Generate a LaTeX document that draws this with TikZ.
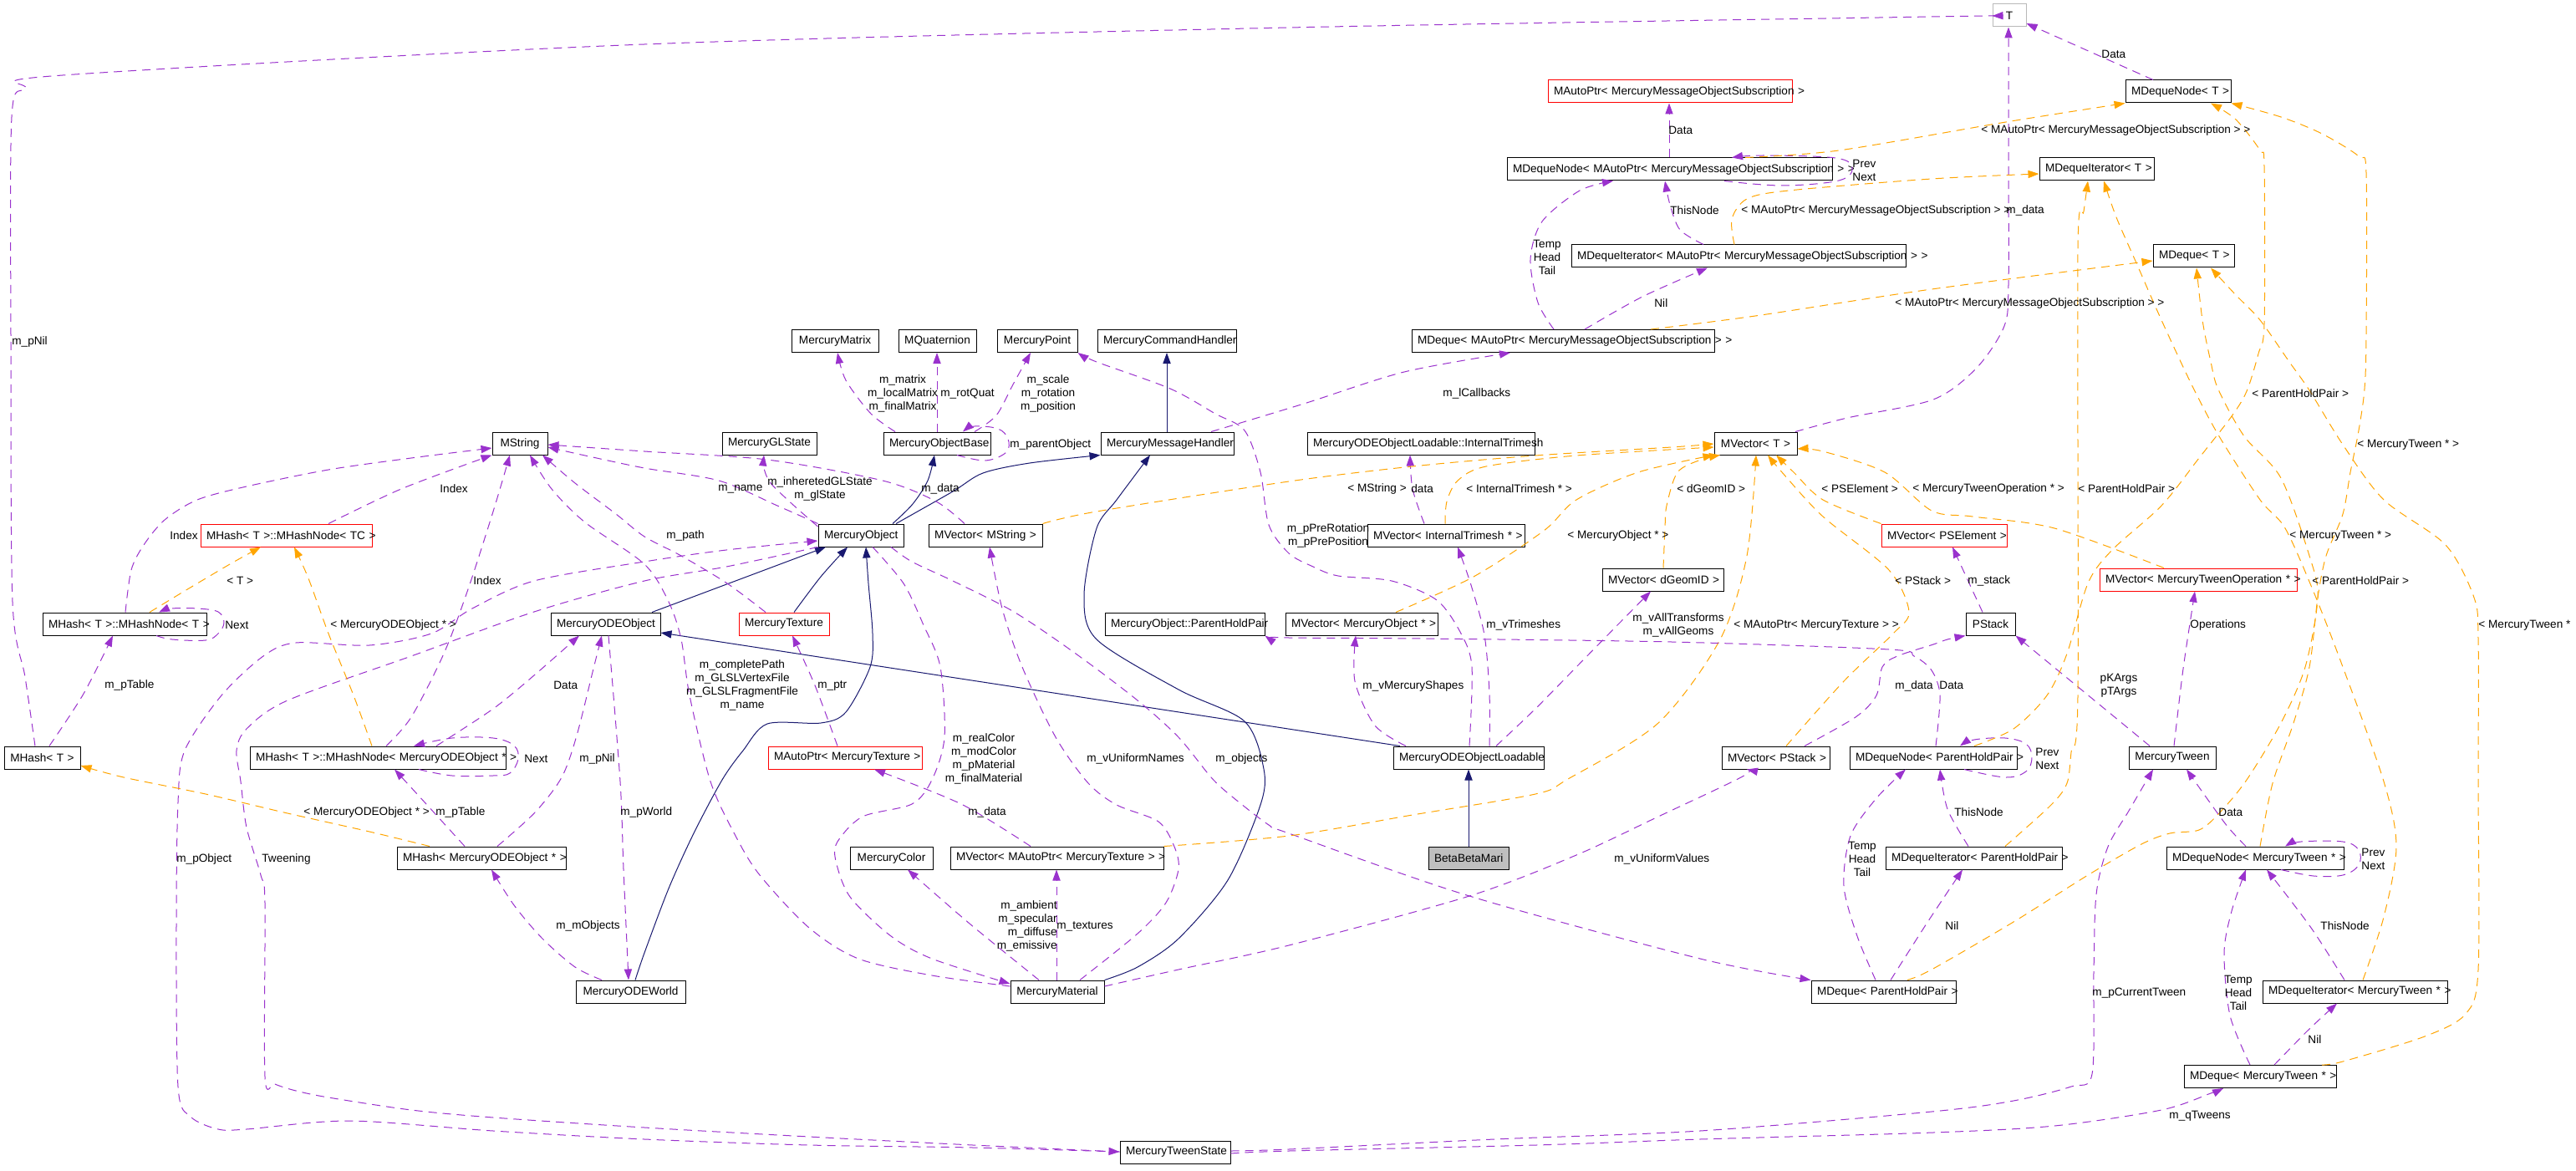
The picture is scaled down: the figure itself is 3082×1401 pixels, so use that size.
\documentclass[tikz,border=0pt]{standalone}
\usepackage{fontspec}
\setmainfont{Liberation Sans}
\usetikzlibrary{arrows.meta}
\definecolor{upurple}{HTML}{9A32CD}
\definecolor{inavy}{HTML}{191970}
\definecolor{torange}{HTML}{FFA500}
\newcommand\dgfont{\fontsize{6.8pt}{8pt}\selectfont}
\newcommand\clsnode[7][]{%
  \pgfmathsetmacro\cnx{(#3+#5)/2}%
  \pgfmathsetmacro\cny{(#4+#6)/2}%
  \pgfmathsetmacro\cnw{(#5-#3)/2-7}%
  \node[cbox,#1,text width=\cnw pt] (#2) at (\cnx,\cny) {\mbox{#7}};}
\tikzset{
  cbox/.style={draw=black, line width=0.5pt, inner xsep=3.5pt, inner ysep=0pt, minimum height=13.5pt, align=center, font=\dgfont},
  rbox/.style={draw=red},
  gbox/.style={draw=gray!55},
  bbox/.style={fill=gray!50},
  lbl/.style={inner sep=0pt, anchor=west, font=\dgfont},
  clbl/.style={inner sep=0pt, anchor=center, align=center, font=\dgfont},
  uedge/.style={draw=upurple, line width=0.5pt, dash pattern=on 5pt off 3.5pt, -{Triangle[length=6.5pt,width=4.6pt]}},
  iedge/.style={draw=inavy, line width=0.5pt, -{Triangle[length=6.5pt,width=4.6pt]}},
  tedge/.style={draw=torange, line width=0.5pt, dash pattern=on 5pt off 3.5pt, -{Triangle[length=6.5pt,width=4.6pt]}}
}
\begin{document}
\begin{tikzpicture}[x=0.5pt,y=-0.5pt]
\fill[white] (0,0) rectangle (3082,1401);
\useasboundingbox (0,0) rectangle (3082,1401);
% ---------------- nodes ----------------
\clsnode[gbox]{nT}{2384}{5}{2424}{32}{T}
\clsnode{dnT}{2543}{96}{2669}{123}{MDequeNode< T >}
\clsnode{diT}{2440}{189}{2577}{216}{MDequeIterator< T >}
\clsnode{dqT}{2576}{293}{2673}{320}{MDeque< T >}
\clsnode[rbox]{apS}{1852}{96}{2144}{123}{MAutoPtr< MercuryMessageObjectSubscription >}
\clsnode{dnS}{1803}{189}{2192}{216}{MDequeNode< MAutoPtr< MercuryMessageObjectSubscription > >}
\clsnode{diS}{1880}{293}{2280}{320}{MDequeIterator< MAutoPtr< MercuryMessageObjectSubscription > >}
\clsnode{dqS}{1689}{395}{2051}{421}{MDeque< MAutoPtr< MercuryMessageObjectSubscription > >}
\clsnode{mat}{947}{395}{1051}{421}{MercuryMatrix}
\clsnode{quat}{1075}{395}{1168}{421}{MQuaternion}
\clsnode{pnt}{1193}{395}{1289}{421}{MercuryPoint}
\clsnode{cmd}{1313}{395}{1479}{421}{MercuryCommandHandler}
\clsnode{str}{589}{517}{655}{544}{MString}
\clsnode[rbox]{hnTC}{240}{627}{445}{654}{MHash< T >::MHashNode< TC >}
\clsnode{hnT}{51}{733}{247}{760}{MHash< T >::MHashNode< T >}
\clsnode{hT}{5}{893}{96}{920}{MHash< T >}
\clsnode{hnO}{299}{893}{605}{920}{MHash< T >::MHashNode< MercuryODEObject * >}
\clsnode{odeo}{659}{733}{790}{760}{MercuryODEObject}
\clsnode{gls}{864}{517}{977}{544}{MercuryGLState}
\clsnode{ob}{1057}{517}{1185}{544}{MercuryObjectBase}
\clsnode{mh}{1317}{517}{1476}{544}{MercuryMessageHandler}
\clsnode{mo}{979}{627}{1081}{654}{MercuryObject}
\clsnode{vstr}{1111}{627}{1247}{654}{MVector< MString >}
\clsnode[rbox]{tex}{884}{733}{992}{760}{MercuryTexture}
\clsnode{php}{1322}{733}{1513}{760}{MercuryObject::ParentHoldPair}
\clsnode[rbox]{aptex}{919}{893}{1103}{920}{MAutoPtr< MercuryTexture >}
\clsnode{itm}{1564}{517}{1836}{544}{MercuryODEObjectLoadable::InternalTrimesh}
\clsnode{vT}{2051}{517}{2150}{544}{MVector< T >}
\clsnode{vitm}{1636}{627}{1824}{654}{MVector< InternalTrimesh * >}
\clsnode[rbox]{vpse}{2251}{627}{2401}{654}{MVector< PSElement >}
\clsnode{vgeom}{1917}{680}{2062}{707}{MVector< dGeomID >}
\clsnode{vmo}{1538}{733}{1720}{760}{MVector< MercuryObject * >}
\clsnode{odel}{1667}{893}{1847}{920}{MercuryODEObjectLoadable}
\clsnode{vps}{2060}{893}{2189}{920}{MVector< PStack >}
\clsnode{dnP}{2213}{893}{2413}{920}{MDequeNode< ParentHoldPair >}
\clsnode{ps}{2352}{733}{2411}{760}{PStack}
\clsnode[rbox]{vmto}{2512}{680}{2748}{707}{MVector< MercuryTweenOperation * >}
\clsnode{tw}{2547}{893}{2651}{920}{MercuryTween}
\clsnode{hO}{475}{1013}{677}{1040}{MHash< MercuryODEObject * >}
\clsnode{world}{689}{1173}{820}{1200}{MercuryODEWorld}
\clsnode{col}{1017}{1013}{1116}{1040}{MercuryColor}
\clsnode{vaptex}{1137}{1013}{1392}{1040}{MVector< MAutoPtr< MercuryTexture > >}
\clsnode{mmat}{1209}{1173}{1321}{1200}{MercuryMaterial}
\clsnode{tws}{1340}{1365}{1472}{1392}{MercuryTweenState}
\clsnode[bbox]{beta}{1709}{1013}{1805}{1040}{BetaBetaMari}
\clsnode{dqP}{2167}{1173}{2340}{1200}{MDeque< ParentHoldPair >}
\clsnode{diP}{2256}{1013}{2467}{1040}{MDequeIterator< ParentHoldPair >}
\clsnode{dnM}{2592}{1013}{2804}{1040}{MDequeNode< MercuryTween * >}
\clsnode{diM}{2707}{1173}{2928}{1200}{MDequeIterator< MercuryTween * >}
\clsnode{dqM}{2613}{1275}{2795}{1301}{MDeque< MercuryTween * >}
% ---------------- edges ----------------
\draw[uedge] plot[smooth,tension=0.5] coordinates {(hT.north -| 42,0) (30,810) (15,720) (13,400) (14,140) (30,106) (75,90) (771,53) (1542,33) (2311,20) (nT.west |- 0,19)};
\draw[uedge] (dnT.north -| 2576,0) -- (nT.east |- 0,28);
\draw[uedge] plot[smooth,tension=0.5] coordinates {(vT.north -| 2148,0) (2210,500) (2313,478) (2365,440) (2398,390) (2403,340) (2403,200) (nT.south -| 2403,0)};
\draw[uedge] (dnS.north -| 1997,0) -- (apS.south -| 1997,0);
\draw[uedge] plot[smooth,tension=0.6] coordinates {(dnS.south -| 2063,0) (2132,222) (2200,216) (2216,201) (2196,189) (2110,186) (dnS.north -| 2072,0)};
\draw[uedge] plot[smooth] coordinates {(diS.north -| 2038,0) (2010,275) (1998,245) (dnS.south -| 1992,0)};
\draw[uedge] plot[smooth] coordinates {(dqS.north -| 1859,0) (1840,362) (1831,310) (1845,265) (1890,228) (dnS.south -| 1930,0)};
\draw[uedge] plot[smooth] coordinates {(dqS.north -| 1896,0) (1965,355) (diS.south -| 2043,0)};
\draw[tedge] plot[smooth] coordinates {(dnS.north -| 2088,0) (2200,180) (2400,146) (dnT.south west)};
\draw[tedge] plot[smooth] coordinates {(diS.north -| 2075,0) (2072,262) (2090,238) (2140,228) (2311,214) (diT.west |- 0,208)};
\draw[tedge] plot[smooth] coordinates {(dqS.north -| 1975,0) (2100,378) (2311,346) (dqT.west |- 0,312)};
\draw[uedge] plot[smooth] coordinates {(mh.north -| 1449,0) (1560,483) (1680,445) (dqS.south -| 1807,0)};
\draw[iedge] (mh.north -| 1396,0) -- (cmd.south -| 1396,0);
\draw[uedge] plot[smooth] coordinates {(ob.north -| 1071,0) (1042,495) (1012,455) (mat.south -| 1002,0)};
\draw[uedge] (ob.north -| 1121,0) -- (quat.south -| 1121,0);
\draw[uedge] plot[smooth] coordinates {(ob.north -| 1166,0) (1192,497) (1212,460) (pnt.south -| 1233,0)};
\draw[uedge] plot[smooth,tension=0.6] coordinates {(ob.south -| 1145,0) (1179,551) (1204,541) (1206,525) (1194,513) (1166,510) (ob.north -| 1152,0)};
\draw[iedge] plot[smooth] coordinates {(mo.north -| 1068,0) (1092,603) (1110,575) (ob.south -| 1118,0)};
\draw[iedge] plot[smooth] coordinates {(mo.north -| 1072,0) (1140,588) (1176,566) (1232,554) (mh.south west)};
\draw[iedge] plot[smooth] coordinates {(mmat.north east) (1361,1157) (1410,1123) (1469,1053) (1508,963) (1512,920) (1489,863) (1410,825) (1312,765) (1297,712) (1312,632) (1336,598) (mh.south -| 1376,0)};
\draw[iedge] plot[smooth] coordinates {(world.north -| 760,0) (771,1140) (800,1063) (830,997) (864,933) (889,898) (918,866) (982,865) (1012,852) (1041,798) (1044,758) (1039,698) (mo.south -| 1036,0)};
\draw[iedge] (odeo.north -| 780,0) -- (mo.south -| 988,0);
\draw[iedge] plot[smooth] coordinates {(tex.north -| 950,0) (982,690) (mo.south -| 1014,0)};
\draw[iedge] (odel.north -| 1675,0) -- (odeo.east |- 0,757);
\draw[iedge] (beta.north) -- (odel.south -| 1757,0);
\draw[uedge] plot[smooth] coordinates {(mo.north west) (930,605) (860,575) (771,560) (700,545) (str.east |- 0,535)};
\draw[uedge] plot[smooth] coordinates {(vstr.north -| 1154,0) (1120,600) (1056,575) (918,550) (771,540) (str.east |- 0,532)};
\draw[uedge] plot[smooth] coordinates {(hnT.north -| 150,0) (157,682) (172,652) (197,622) (236,598) (295,582) (393,562) (492,548) (str.west |- 0,536)};
\draw[uedge] plot[smooth] coordinates {(hnTC.north -| 393,0) (480,585) (str.south west)};
\draw[uedge] plot[smooth] coordinates {(hnO.north -| 462,0) (492,858) (531,782) (560,705) (590,612) (str.south -| 610,0)};
\draw[uedge] plot[smooth] coordinates {(tex.north -| 916,0) (870,698) (815,665) (771,642) (737,615) (688,578) (str.south -| 649,0)};
\draw[uedge] plot[smooth] coordinates {(mmat.west |- 0,1180) (1115,1167) (1027,1147) (968,1110) (909,1047) (880,1000) (850,935) (825,832) (815,765) (800,720) (771,675) (700,625) (660,585) (str.south -| 634,0)};
\draw[uedge] plot[smooth] coordinates {(mo.west |- 0,630) (950,605) (922,578) (914,560) (gls.south -| 914,0)};
\draw[uedge] plot[smooth,tension=0.5] coordinates {(tws.west |- 0,1378) (1164,1373) (968,1370) (771,1363) (590,1353) (418,1341) (295,1351) (261,1351) (228,1336) (213,1300) (211,1100) (213,960) (221,898) (265,832) (315,785) (354,769) (442,772) (516,758) (565,728) (639,695) (771,672) (869,658) (mo.west |- 0,647)};
\draw[uedge] plot[smooth,tension=0.5] coordinates {(mo.south west) (869,678) (771,695) (639,732) (492,785) (344,838) (295,872) (283,898) (288,935) (295,990) (312,1047) (317,1080) (317,1288) (329,1297) (354,1305) (393,1313) (492,1328) (590,1337) (771,1349) (968,1360) (1164,1370) (tws.west |- 0,1378)};
\draw[uedge] plot[smooth] coordinates {(mo.south -| 1044,0) (1081,698) (1105,748) (1125,798) (1130,882) (1115,933) (1091,962) (1032,977) (1002,1007) (1000,1030) (1017,1073) (1066,1120) (1115,1147) (mmat.west |- 0,1177)};
\draw[uedge] plot[smooth] coordinates {(mo.south -| 1066,0) (1091,672) (1140,695) (1213,732) (1287,782) (1361,838) (1410,882) (1449,930) (1474,953) (1518,987) (1542,997) (1758,1072) (2034,1147) (dqP.north west)};
\draw[uedge] plot[smooth] coordinates {(mmat.north -| 1292,0) (1361,1117) (1395,1080) (1410,1040) (1405,1013) (1386,983) (1336,963) (1302,937) (1263,882) (1223,798) (1199,728) (vstr.south -| 1184,0)};
\draw[uedge] plot[smooth] coordinates {(aptex.north -| 1002,0) (975,820) (tex.south -| 948,0)};
\draw[uedge] plot[smooth] coordinates {(vaptex.north -| 1233,0) (1150,962) (aptex.south -| 1046,0)};
\draw[uedge] (mmat.north -| 1264,0) -- (vaptex.south -| 1264,0);
\draw[uedge] plot[smooth] coordinates {(mmat.north -| 1243,0) (1160,1105) (col.south -| 1086,0)};
\draw[uedge] plot[smooth] coordinates {(mmat.east |- 0,1180) (1410,1160) (1542,1131) (1758,1072) (1886,1023) (1984,977) (2083,930) (vps.south -| 2090,0)};
\draw[uedge] plot[smooth] coordinates {(odel.north -| 1682,0) (1645,868) (1621,815) (vmo.south -| 1622,0)};
\draw[uedge] plot[smooth] coordinates {(odel.north -| 1782,0) (1782,830) (1776,760) (1760,700) (vitm.south -| 1744,0)};
\draw[uedge] plot[smooth] coordinates {(odel.north -| 1790,0) (1837,848) (1886,798) (1935,748) (vgeom.south -| 1975,0)};
\draw[uedge] plot[smooth,tension=0.5] coordinates {(odel.north -| 1758,0) (1761,798) (1748,758) (1719,718) (1665,695) (1601,689) (1571,678) (1542,662) (1518,628) (1508,565) (1489,515) (1454,495) (1400,465) (1312,433) (pnt.south east)};
\draw[uedge] plot[smooth] coordinates {(vitm.north -| 1704,0) (1690,585) (itm.south -| 1687,0)};
\draw[tedge] plot[smooth] coordinates {(vstr.north east) (1312,612) (1542,576) (1690,558) (1837,545) (2000,535) (vT.west |- 0,531)};
\draw[tedge] plot[smooth] coordinates {(vitm.north -| 1729,0) (1731,600) (1744,575) (1778,558) (1886,545) (vT.west |- 0,535)};
\draw[tedge] plot[smooth] coordinates {(vmo.north -| 1670,0) (1763,690) (1847,635) (1886,598) (1960,565) (vT.south west)};
\draw[tedge] plot[smooth] coordinates {(vgeom.north -| 1990,0) (1992,632) (1994,605) (2007,565) (2035,550) (vT.south -| 2058,0)};
\draw[tedge] plot[smooth] coordinates {(vaptex.north east) (1542,1000) (1690,975) (1837,950) (1876,932) (1984,865) (2058,765) (2090,665) (vT.south -| 2101,0)};
\draw[tedge] plot[smooth] coordinates {(vps.north -| 2137,0) (2206,815) (2265,758) (2284,732) (2260,682) (2181,618) (2132,565) (vT.south -| 2115,0)};
\draw[tedge] plot[smooth] coordinates {(vpse.north west) (2181,598) (2146,565) (vT.south -| 2125,0)};
\draw[tedge] plot[smooth] coordinates {(vmto.north -| 2589,0) (2458,632) (2360,618) (2311,611) (2255,565) (2181,540) (vT.east |- 0,537)};
\draw[uedge] plot[smooth,tension=0.5] coordinates {(dnP.north -| 2316,0) (2321,832) (2311,802) (2290,785) (2260,777) (2000,768) (1700,764) (1542,763) (php.south east)};
\draw[uedge] plot[smooth] coordinates {(vps.north -| 2159,0) (2220,858) (2245,832) (2252,798) (2270,785) (2313,771) (2330,765) (ps.south west)};
\draw[uedge] (ps.north -| 2372,0) -- (vpse.south -| 2336,0);
\draw[uedge] plot[smooth] coordinates {(tw.north -| 2572,0) (2490,825) (ps.south east)};
\draw[uedge] plot[smooth] coordinates {(tw.north -| 2601,0) (2612,800) (vmto.south -| 2626,0)};
\draw[uedge] plot[smooth,tension=0.6] coordinates {(dnP.south -| 2350,0) (2399,930) (2424,923) (2431,906) (2424,890) (2399,883) (2362,885) (dnP.north -| 2345,0)};
\draw[uedge] plot[smooth] coordinates {(diP.north -| 2355,0) (2330,968) (dnP.south -| 2321,0)};
\draw[uedge] plot[smooth] coordinates {(dqP.north -| 2244,0) (2222,1120) (2206,1060) (2214,1000) (2245,955) (dnP.south -| 2280,0)};
\draw[uedge] plot[smooth] coordinates {(dqP.north -| 2262,0) (2305,1105) (diP.south -| 2348,0)};
\draw[tedge] plot[smooth,tension=0.5] coordinates {(dnP.north -| 2362,0) (2409,872) (2449,832) (2473,782) (2498,698) (2527,658) (2586,605) (2631,548) (2670,498) (2688,468) (2702,423) (2709,387) (2709,200) (2704,180) (2675,143) (dnT.south -| 2645,0)};
\draw[tedge] plot[smooth,tension=0.5] coordinates {(diP.north -| 2399,0) (2454,963) (2473,937) (2478,900) (2486,832) (2486,300) (2493,253) (diT.south -| 2498,0)};
\draw[tedge] plot[smooth,tension=0.5] coordinates {(diM.north -| 2827,0) (2852,1097) (2867,1013) (2852,935) (2803,798) (2768,708) (2734,632) (2704,598) (2655,522) (2623,462) (2586,383) (2557,317) (2532,260) (diT.south -| 2517,0)};
\draw[tedge] plot[smooth,tension=0.5] coordinates {(dqP.north -| 2282,0) (2311,1160) (2409,1103) (2498,1047) (2562,1010) (2596,997) (2631,993) (2655,973) (2688,933) (2729,865) (2758,798) (2773,715) (2763,665) (2729,572) (2685,522) (2654,466) (2645,433) (2635,383) (dqT.south -| 2628,0)};
\draw[tedge] plot[smooth,tension=0.5] coordinates {(dqM.north -| 2778,0) (2803,1270) (2901,1240) (2950,1213) (2965,1160) (2965,935) (2965,765) (2960,715) (2926,652) (2852,598) (2803,532) (2763,467) (2739,433) (2704,383) (2675,353) (dqT.south -| 2645,0)};
\draw[tedge] plot[smooth,tension=0.5] coordinates {(dnM.north -| 2704,0) (2719,937) (2744,865) (2763,798) (2773,715) (2783,665) (2803,615) (2812,565) (2822,515) (2829,465) (2831,400) (2831,207) (2822,187) (2778,160) (2729,140) (dnT.south east)};
\draw[uedge] plot[smooth] coordinates {(dnM.north -| 2687,0) (2662,985) (tw.south -| 2616,0)};
\draw[uedge] plot[smooth,tension=0.6] coordinates {(dnM.south -| 2729,0) (2768,1048) (2803,1047) (2822,1035) (2822,1017) (2803,1007) (2753,1007) (dnM.north -| 2734,0)};
\draw[uedge] plot[smooth] coordinates {(diM.north -| 2805,0) (2765,1110) (dnM.south -| 2712,0)};
\draw[uedge] plot[smooth] coordinates {(dqM.north -| 2692,0) (2668,1215) (2661,1140) (2670,1090) (dnM.south -| 2687,0)};
\draw[uedge] plot[smooth] coordinates {(dqM.north -| 2721,0) (2762,1232) (diM.south -| 2796,0)};
\draw[uedge] plot[smooth,tension=0.5] coordinates {(tws.east |- 0,1377) (1542,1375) (1788,1363) (2034,1353) (2311,1330) (2409,1317) (2478,1300) (2503,1285) (2505,1163) (2508,1070) (2522,1013) (2547,970) (tw.south -| 2576,0)};
\draw[uedge] plot[smooth,tension=0.5] coordinates {(tws.east |- 0,1380) (1542,1377) (1838,1370) (2034,1363) (2313,1355) (2458,1347) (2586,1328) (2645,1308) (dqM.south -| 2660,0)};
\draw[uedge] plot[smooth] coordinates {(hT.north -| 59,0) (100,830) (hnT.south -| 135,0)};
\draw[uedge] plot[smooth,tension=0.6] coordinates {(hnT.south -| 187,0) (206,765) (246,766) (261,758) (268,745) (261,732) (236,728) (206,728) (hnT.north -| 190,0)};
\draw[tedge] plot[smooth] coordinates {(hnT.north -| 179,0) (221,707) (275,675) (hnTC.south -| 312,0)};
\draw[tedge] plot[smooth] coordinates {(hnO.north -| 445,0) (423,832) (393,758) (369,692) (hnTC.south -| 352,0)};
\draw[uedge] plot[smooth,tension=0.6] coordinates {(hnO.south -| 501,0) (541,928) (590,928) (610,925) (620,908) (615,892) (590,883) (541,883) (hnO.north -| 495,0)};
\draw[uedge] plot[smooth] coordinates {(hnO.north -| 522,0) (590,848) (639,808) (odeo.south -| 693,0)};
\draw[uedge] plot[smooth] coordinates {(hO.north -| 556,0) (510,962) (hnO.south -| 472,0)};
\draw[tedge] plot[smooth] coordinates {(hO.north -| 514,0) (442,995) (344,973) (246,950) (148,930) (hT.east |- 0,916)};
\draw[uedge] plot[smooth] coordinates {(hO.north -| 595,0) (640,972) (672,930) (690,880) (710,800) (odeo.south -| 720,0)};
\draw[uedge] plot[smooth] coordinates {(world.north -| 720,0) (688,1157) (649,1123) (615,1083) (hO.south -| 588,0)};
\draw[uedge] plot[smooth] coordinates {(odeo.south -| 728,0) (742,935) (746,1040) (world.north -| 752,0)};
% ---------------- labels ----------------
\node[lbl] (lb1) at (14,409) {m\_pNil};
\node[lbl] (lb2) at (2514,65) {Data};
\node[lbl] (lb3) at (2400,252) {m\_data};
\node[lbl] (lb4) at (1996,156) {Data};
\node[lbl,align=left] (lb5) at (2216,204) {Prev\\Next};
\node[lbl] (lb6) at (1998,252) {ThisNode};
\node[clbl] (lb7) at (1851,308) {Temp\\Head\\Tail};
\node[lbl] (lb8) at (1979,363) {Nil};
\node[lbl] (lb9) at (2370,156) {< MAutoPtr< MercuryMessageObjectSubscription > >};
\node[lbl] (lb10) at (2083,252) {< MAutoPtr< MercuryMessageObjectSubscription > >};
\node[lbl] (lb11) at (2267,363) {< MAutoPtr< MercuryMessageObjectSubscription > >};
\node[lbl] (lb12) at (1726,471) {m\_lCallbacks};
\node[clbl] (lb13) at (1080,471) {m\_matrix\\m\_localMatrix\\m\_finalMatrix};
\node[lbl] (lb14) at (1125,471) {m\_rotQuat};
\node[clbl] (lb15) at (1254,471) {m\_scale\\m\_rotation\\m\_position};
\node[lbl] (lb16) at (1208,532) {m\_parentObject};
\node[lbl] (lb17) at (859,585) {m\_name};
\node[lbl] (lb18) at (1102,585) {m\_data};
\node[lbl] (lb19) at (203,641) {Index};
\node[lbl] (lb20) at (526,585) {Index};
\node[lbl] (lb21) at (566,695) {Index};
\node[lbl] (lb22) at (797,641) {m\_path};
\node[clbl] (lb23) at (888,820) {m\_completePath\\m\_GLSLVertexFile\\m\_GLSLFragmentFile\\m\_name};
\node[clbl] (lb24) at (981,585) {m\_inheretedGLState\\m\_glState};
\node[lbl] (lb25) at (211,1028) {m\_pObject};
\node[lbl] (lb26) at (313,1028) {Tweening};
\node[clbl] (lb27) at (1177,908) {m\_realColor\\m\_modColor\\m\_pMaterial\\m\_finalMaterial};
\node[lbl] (lb28) at (1454,908) {m\_objects};
\node[lbl] (lb29) at (1300,908) {m\_vUniformNames};
\node[lbl] (lb30) at (978,821) {m\_ptr};
\node[lbl] (lb31) at (1158,972) {m\_data};
\node[lbl] (lb32) at (1264,1108) {m\_textures};
\node[lbl,anchor=east,align=right] (lb33) at (1265,1108) {m\_ambient\\m\_specular\\m\_diffuse\\m\_emissive};
\node[lbl] (lb34) at (1931,1028) {m\_vUniformValues};
\node[lbl] (lb35) at (1630,821) {m\_vMercuryShapes};
\node[lbl] (lb36) at (1778,748) {m\_vTrimeshes};
\node[clbl] (lb37) at (2008,748) {m\_vAllTransforms\\m\_vAllGeoms};
\node[clbl] (lb38) at (1589,641) {m\_pPreRotation\\m\_pPrePosition};
\node[lbl] (lb39) at (1688,585) {data};
\node[lbl] (lb40) at (1612,585) {< MString >};
\node[lbl] (lb41) at (1754,585) {< InternalTrimesh * >};
\node[lbl] (lb42) at (1875,641) {< MercuryObject * >};
\node[lbl] (lb43) at (2006,585) {< dGeomID >};
\node[lbl] (lb44) at (2074,748) {< MAutoPtr< MercuryTexture > >};
\node[lbl] (lb45) at (2267,695) {< PStack >};
\node[lbl] (lb46) at (2179,585) {< PSElement >};
\node[lbl] (lb47) at (2288,585) {< MercuryTweenOperation * >};
\node[lbl] (lb48) at (2320,820) {Data};
\node[lbl] (lb49) at (2267,821) {m\_data};
\node[lbl] (lb50) at (2354,695) {m\_stack};
\node[clbl] (lb51) at (2535,820) {pKArgs\\pTArgs};
\node[lbl] (lb52) at (2620,748) {Operations};
\node[lbl,align=left] (lb53) at (2435,908) {Prev\\Next};
\node[lbl] (lb54) at (2338,972) {ThisNode};
\node[clbl] (lb55) at (2228,1028) {Temp\\Head\\Tail};
\node[lbl] (lb56) at (2327,1108) {Nil};
\node[lbl] (lb57) at (2694,471) {< ParentHoldPair >};
\node[lbl] (lb58) at (2486,585) {< ParentHoldPair >};
\node[lbl] (lb59) at (2739,641) {< MercuryTween * >};
\node[lbl] (lb60) at (2766,695) {< ParentHoldPair >};
\node[lbl] (lb61) at (2965,748) {< MercuryTween *};
\node[lbl] (lb62) at (2820,532) {< MercuryTween * >};
\node[lbl] (lb63) at (2654,972) {Data};
\node[lbl,align=left] (lb64) at (2825,1028) {Prev\\Next};
\node[lbl] (lb65) at (2776,1108) {ThisNode};
\node[clbl] (lb66) at (2678,1188) {Temp\\Head\\Tail};
\node[lbl] (lb67) at (2761,1244) {Nil};
\node[lbl] (lb68) at (2503,1188) {m\_pCurrentTween};
\node[lbl] (lb69) at (2595,1335) {m\_qTweens};
\node[lbl] (lb70) at (125,820) {m\_pTable};
\node[lbl] (lb71) at (269,748) {Next};
\node[lbl] (lb72) at (271,695) {< T >};
\node[lbl] (lb73) at (395,748) {< MercuryODEObject * >};
\node[lbl] (lb74) at (627,908) {Next};
\node[lbl] (lb75) at (662,820) {Data};
\node[lbl] (lb76) at (521,972) {m\_pTable};
\node[lbl] (lb77) at (363,972) {< MercuryODEObject * >};
\node[lbl] (lb78) at (693,908) {m\_pNil};
\node[lbl] (lb79) at (665,1108) {m\_mObjects};
\node[lbl] (lb80) at (742,972) {m\_pWorld};
\end{tikzpicture}
\end{document}
